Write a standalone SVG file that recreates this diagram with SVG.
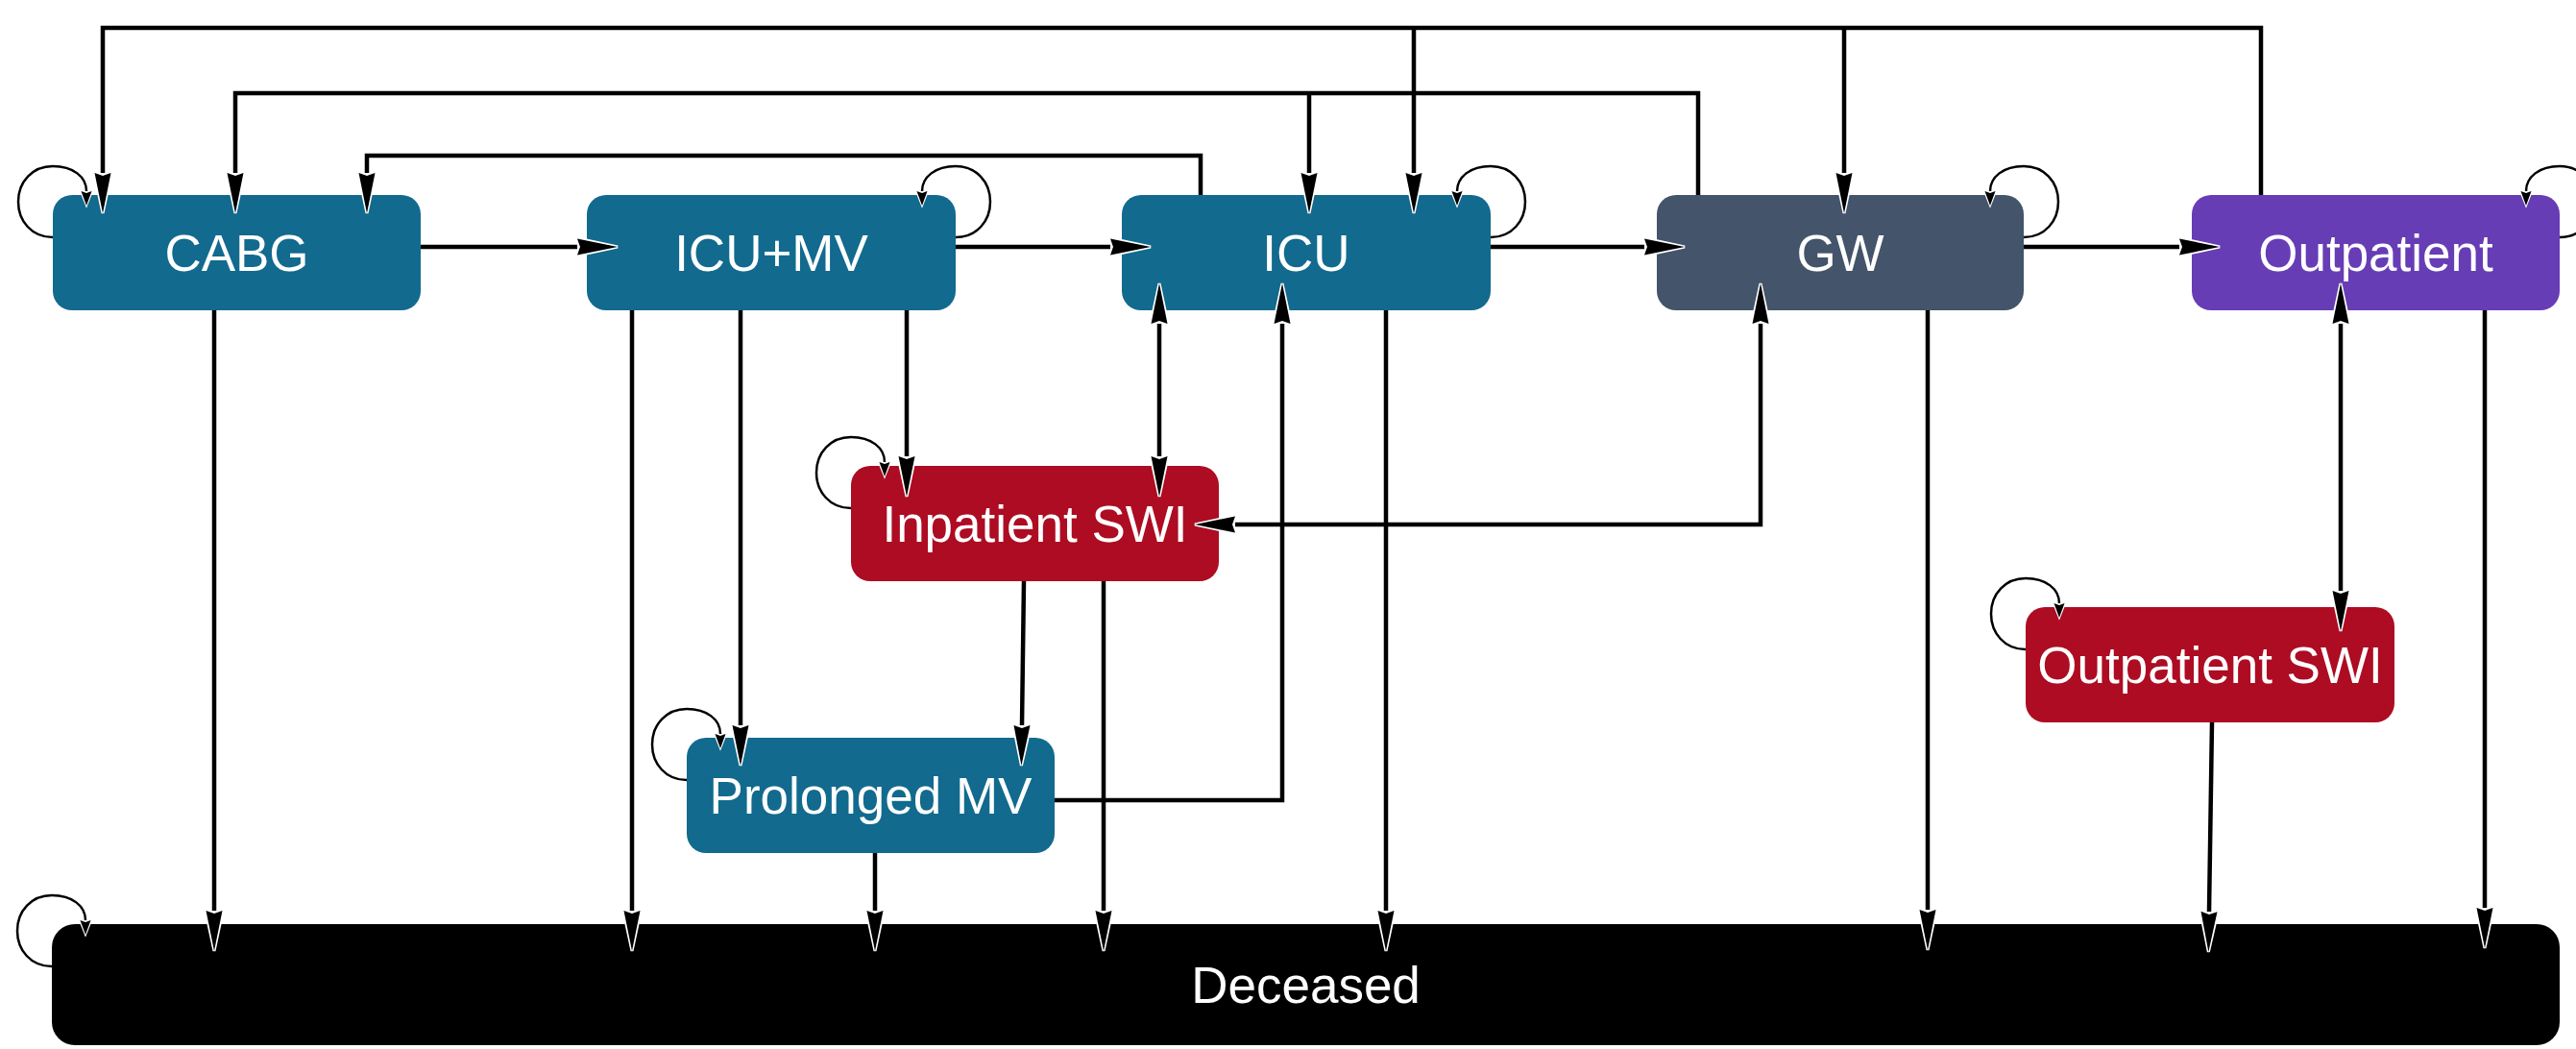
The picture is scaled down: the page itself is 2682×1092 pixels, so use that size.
<svg xmlns="http://www.w3.org/2000/svg" width="2682" height="1092" viewBox="0 0 2682 1092">
  <style>
    .node rect { stroke: none; }
    .teal { fill: #126A8E; }
    .slate { fill: #43546B; }
    .purple { fill: #673DB5; }
    .red { fill: #AD0C22; }
    .dead { fill: #000000; }
    .label { font-family: "Liberation Sans", Arial, sans-serif; font-size: 53px; fill: #ffffff; text-anchor: middle; }
    .edge { fill: none; stroke: #000000; stroke-width: 4.5; stroke-linejoin: miter; marker-end: url(#head); }
    .both { marker-start: url(#head); }
    .loop { fill: none; stroke: #000000; stroke-width: 2.5; marker-end: url(#loophead); }
  </style>
  <defs>
    <!-- long narrow arrowhead, base at the path end, tip 42px beyond -->
    <marker id="head" viewBox="0 0 42 18" markerWidth="42" markerHeight="18" refX="0" refY="9" markerUnits="userSpaceOnUse" orient="auto-start-reverse" overflow="visible">
      <path d="M0,0 L42,9 L0,18" fill="none" stroke="#ffffff" stroke-width="3"/>
      <path d="M0,0.5 L42,9 L0,17.5 L3,9 Z" fill="#000000"/>
    </marker>
    <!-- small arrowhead for self transitions -->
    <marker id="loophead" viewBox="0 0 15 12" markerWidth="15" markerHeight="12" refX="0" refY="6" markerUnits="userSpaceOnUse" orient="auto" overflow="visible">
      <path d="M0,0 L15,6 L0,12" fill="none" stroke="#ffffff" stroke-width="2"/>
      <path d="M0,0.5 L15,6 L0,11.5 L2,6 Z" fill="#000000"/>
    </marker>
  </defs>

  <rect width="2682" height="1092" fill="#ffffff"/>

  <!-- states -->
  <g id="node-cabg" class="node">
    <rect class="teal" x="55" y="203" width="383" height="120" rx="20"/>
    <text class="label" x="246.5" y="282">CABG</text>
  </g>
  <g id="node-icu-mv" class="node">
    <rect class="teal" x="611" y="203" width="384" height="120" rx="20"/>
    <text class="label" x="803" y="282">ICU+MV</text>
  </g>
  <g id="node-icu" class="node">
    <rect class="teal" x="1168" y="203" width="384" height="120" rx="20"/>
    <text class="label" x="1360" y="282">ICU</text>
  </g>
  <g id="node-gw" class="node">
    <rect class="slate" x="1725" y="203" width="382" height="120" rx="20"/>
    <text class="label" x="1916" y="282">GW</text>
  </g>
  <g id="node-outpatient" class="node">
    <rect class="purple" x="2282" y="203" width="383" height="120" rx="20"/>
    <text class="label" x="2473.5" y="282">Outpatient</text>
  </g>
  <g id="node-inpatient-swi" class="node">
    <rect class="red" x="886" y="485" width="383" height="120" rx="20"/>
    <text class="label" x="1077.5" y="564">Inpatient SWI</text>
  </g>
  <g id="node-prolonged-mv" class="node">
    <rect class="teal" x="715" y="768" width="383" height="120" rx="20"/>
    <text class="label" x="906.5" y="847">Prolonged MV</text>
  </g>
  <g id="node-outpatient-swi" class="node">
    <rect class="red" x="2109" y="632" width="384" height="120" rx="20"/>
    <text class="label" x="2301" y="711">Outpatient SWI</text>
  </g>
  <g id="node-deceased" class="node">
    <rect class="dead" x="54" y="962" width="2611" height="126" rx="24"/>
    <text class="label" x="1359.5" y="1044">Deceased</text>
  </g>

  <!-- transitions -->
  <g id="connectors">
    <!-- main pathway -->
    <path class="edge" d="M438,257 H601"/>
    <path class="edge" d="M995,257 H1156"/>
    <path class="edge" d="M1552,257 H1712"/>
    <path class="edge" d="M2107,257 H2269"/>

    <!-- Outpatient back to CABG / ICU / GW -->
    <path class="edge" d="M2354,203 V29 H107 V180"/>
    <path class="edge" d="M1472,29 V180"/>
    <path class="edge" d="M1920,29 V180"/>

    <!-- GW back to CABG / ICU -->
    <path class="edge" d="M1768,203 V97 H245 V180"/>
    <path class="edge" d="M1363,97 V180"/>

    <!-- ICU back to CABG -->
    <path class="edge" d="M1250,203 V162 H382 V180"/>

    <!-- ICU+MV branches -->
    <path class="edge" d="M771,323 V755"/>
    <path class="edge" d="M944,323 V475"/>

    <!-- SWI and prolonged MV links -->
    <path class="edge both" d="M1207,337 V475"/>
    <path class="edge both" d="M1833,337 V546 H1286"/>
    <path class="edge" d="M1066,605 L1064,755"/>
    <path class="edge" d="M1098,833 H1335 V337"/>
    <path class="edge both" d="M2437,337 V615"/>

    <!-- to Deceased -->
    <path class="edge" d="M223,323 V948"/>
    <path class="edge" d="M658,323 V948"/>
    <path class="edge" d="M911,888 V948"/>
    <path class="edge" d="M1149,605 V948"/>
    <path class="edge" d="M1443,323 V948"/>
    <path class="edge" d="M2007,323 V947"/>
    <path class="edge" d="M2303,752 L2300,949"/>
    <path class="edge" d="M2587,323 V945"/>

    <!-- self transitions, left side of box -->
    <path class="loop" d="M55,247 C33,247 19,230 19,210 C19,189 34,173 55,173 C76,173 90,184 90,199"/>
    <path class="loop" d="M886,529 C864,529 850,512 850,492 C850,471 865,455 886,455 C907,455 921,466 921,481"/>
    <path class="loop" d="M715,812 C693,812 679,795 679,775 C679,754 694,738 715,738 C736,738 750,749 750,764"/>
    <path class="loop" d="M2109,676 C2087,676 2073,659 2073,639 C2073,618 2088,602 2109,602 C2130,602 2144,613 2144,628"/>
    <path class="loop" d="M54,1006 C32,1006 18,989 18,969 C18,948 33,932 54,932 C75,932 89,943 89,958"/>

    <!-- self transitions, right side of box -->
    <path class="loop" d="M995,247 C1017,247 1031,230 1031,210 C1031,189 1016,173 995,173 C974,173 960,184 960,199"/>
    <path class="loop" d="M1552,247 C1574,247 1588,230 1588,210 C1588,189 1573,173 1552,173 C1531,173 1517,184 1517,199"/>
    <path class="loop" d="M2107,247 C2129,247 2143,230 2143,210 C2143,189 2128,173 2107,173 C2086,173 2072,184 2072,199"/>
    <path class="loop" d="M2665,247 C2687,247 2701,230 2701,210 C2701,189 2686,173 2665,173 C2644,173 2630,184 2630,199"/>
  </g>
</svg>
